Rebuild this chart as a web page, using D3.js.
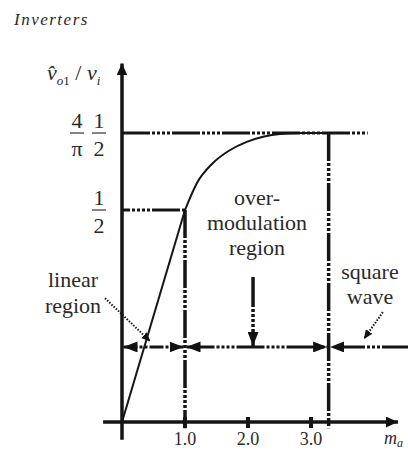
<!DOCTYPE html>
<html><head><meta charset="utf-8">
<script src="https://cdn.jsdelivr.net/npm/d3@7"></script>
<style>
html,body{margin:0;padding:0;background:#fff;}
svg{display:block;}
text{font-family:"Liberation Serif","Times New Roman",serif;fill:#2a2a2a;}
</style></head>
<body>
<script>
// ---- data ----
const xTickValues = [1.0, 2.0, 3.0];
const xTickLabels = ["1.0", "2.0", "3.0"];
const curveM = [0, 1.0, 1.19, 1.44, 1.71, 1.98, 2.24, 2.51, 2.83, 3.28];
const curveV = [0, 0.5, 0.548, 0.583, 0.606, 0.621, 0.630, 0.635, 0.6366, 0.6366];
const yLevels = [0.5, 2 / Math.PI];
const regionBounds = [0, 1.0, 3.28];
const regionNames = [["linear", "region"], ["over-", "modulation", "region"], ["square", "wave"]];
const arrowLevel = 0.177;

const W = 408, H = 451;
const x = d3.scaleLinear().domain([0, 1]).range([122, 185]);
const y = d3.scaleLinear().domain([0, 0.5, 2 / Math.PI]).range([422, 210, 133]);
const xExt = [-0.3, 4.38], yExt = [-0.042, 0.76];
const rightEdge = x.invert(W);

const svg = d3.select("body").append("svg").attr("width", W).attr("height", H);
const defs = svg.append("defs");
function marker(id, len, wid) {
  defs.append("marker").attr("id", id).attr("markerUnits", "userSpaceOnUse")
    .attr("viewBox", `0 0 ${len} ${wid}`).attr("refX", len).attr("refY", wid / 2)
    .attr("markerWidth", len).attr("markerHeight", wid).attr("orient", "auto-start-reverse")
    .append("path").attr("d", `M0,0L${len},${wid / 2}L0,${wid}Z`).attr("fill", "#111");
}
marker("head", 14, 11);
marker("small", 9, 8);
marker("axis", 12, 11);

const ink = "#151515";
const dashDot = "28,2,3,2,3,2,3,2,3,2";

// title
svg.append("text").attr("x", 14).attr("y", 25).attr("font-style", "italic")
  .attr("font-size", 17).attr("letter-spacing", 1.5).text("Inverters");

// y label
const yl = svg.append("text").attr("x", 47).attr("y", 80).attr("font-size", 22);
yl.append("tspan").attr("font-style", "italic").text("v\u0302");
yl.append("tspan").attr("font-style", "italic").attr("font-size", 13).attr("dy", 5).text("o");
yl.append("tspan").attr("font-size", 13).text("1");
yl.append("tspan").attr("dy", -5).text(" / ");
yl.append("tspan").attr("font-style", "italic").text("v");
yl.append("tspan").attr("font-style", "italic").attr("font-size", 13).attr("dy", 5).text("i");

// reference dash-dot lines
yLevels.forEach((v, i) => {
  const xEnd = i === 0 ? regionBounds[1] : 3.9;
  svg.append("line").attr("x1", x(0)).attr("x2", x(xEnd)).attr("y1", y(v)).attr("y2", y(v))
    .attr("stroke", ink).attr("stroke-width", 3).attr("stroke-dasharray", dashDot)
    .attr("stroke-dashoffset", i === 0 ? 20 : 0);
});
[[regionBounds[1], yLevels[0]], [regionBounds[2], yLevels[1]]].forEach(([m, v]) => {
  svg.append("line").attr("x1", x(m)).attr("x2", x(m)).attr("y1", y(v)).attr("y2", y(-0.015))
    .attr("stroke", ink).attr("stroke-width", 3.5).attr("stroke-dasharray", dashDot);
});

// curve
const pts = curveM.map((m, i) => [m, curveV[i]]);
svg.append("path").datum(pts.slice(0, 2))
  .attr("d", d3.line().x(d => x(d[0])).y(d => y(d[1])))
  .attr("fill", "none").attr("stroke", ink).attr("stroke-width", 2);
svg.append("path").datum(pts.slice(1))
  .attr("d", d3.line().x(d => x(d[0])).y(d => y(d[1])).curve(d3.curveMonotoneX))
  .attr("fill", "none").attr("stroke", ink).attr("stroke-width", 2);

// axes
svg.append("line").attr("x1", x(xExt[0])).attr("x2", x(xExt[1])).attr("y1", y(0)).attr("y2", y(0))
  .attr("stroke", ink).attr("stroke-width", 3.5).attr("marker-end", "url(#axis)");
svg.append("line").attr("x1", x(0)).attr("x2", x(0)).attr("y1", y(yExt[0])).attr("y2", y(yExt[1]))
  .attr("stroke", ink).attr("stroke-width", 3.5).attr("marker-end", "url(#axis)");
xTickValues.forEach((t, i) => {
  svg.append("line").attr("x1", x(t)).attr("x2", x(t)).attr("y1", y(0) - 5).attr("y2", y(0) + 6)
    .attr("stroke", ink).attr("stroke-width", 4);
  svg.append("text").attr("x", x(t)).attr("y", 445).attr("text-anchor", "middle")
    .attr("font-size", 18).text(xTickLabels[i]);
});
const ma = svg.append("text").attr("x", 384).attr("y", 444).attr("font-size", 18).attr("font-style", "italic");
ma.append("tspan").text("m");
ma.append("tspan").attr("font-size", 12).attr("dy", 3).text("a");

// y fractions
function frac(cx, top, bot, v) {
  const yy = y(v);
  svg.append("line").attr("x1", cx - 7).attr("x2", cx + 7).attr("y1", yy).attr("y2", yy)
    .attr("stroke", "#333").attr("stroke-width", 1.2);
  svg.append("text").attr("x", cx).attr("y", yy - 5).attr("text-anchor", "middle").attr("font-size", 22).text(top);
  svg.append("text").attr("x", cx).attr("y", yy + 23).attr("text-anchor", "middle").attr("font-size", 22).text(bot);
}
frac(77, "4", "\u03c0", yLevels[1]);
frac(99, "1", "2", yLevels[1]);
frac(99, "1", "2", yLevels[0]);

// region arrows
for (let i = 0; i < 2; i++) {
  svg.append("line").attr("x1", x(regionBounds[i]) + 1.5).attr("x2", x(regionBounds[i + 1]) - 1.5)
    .attr("y1", y(arrowLevel)).attr("y2", y(arrowLevel))
    .attr("stroke", ink).attr("stroke-width", 3).attr("stroke-dasharray", i === 0 ? "14,2,3,2,3,2" : dashDot)
    .attr("marker-start", "url(#head)").attr("marker-end", "url(#head)");
}
svg.append("line").attr("x1", x(rightEdge)).attr("x2", x(regionBounds[2]) + 1.5)
  .attr("y1", y(arrowLevel)).attr("y2", y(arrowLevel))
  .attr("stroke", ink).attr("stroke-width", 3).attr("stroke-dasharray", "26,2,3,2,3,2,3,2,28")
  .attr("marker-end", "url(#head)");
// down arrow in overmodulation region
svg.append("line").attr("x1", x(2.08)).attr("x2", x(2.08)).attr("y1", y(0.342)).attr("y2", y(arrowLevel) - 1)
  .attr("stroke", ink).attr("stroke-width", 3.5).attr("stroke-dasharray", "30,2,3,2,3,2,3,2,3,2")
  .attr("marker-end", "url(#head)");

// leader lines
[[[-0.27, 0.292], [0.45, 0.19]], [[4.14, 0.259], [3.84, 0.196]]].forEach(([a, b]) => {
  svg.append("line").attr("x1", x(a[0])).attr("y1", y(a[1])).attr("x2", x(b[0])).attr("y2", y(b[1]))
    .attr("stroke", ink).attr("stroke-width", 2).attr("stroke-dasharray", "1.5,1.5")
    .attr("marker-end", "url(#small)");
});

// region labels
function label(lines, cx, base, gap) {
  lines.forEach((t, i) => svg.append("text").attr("x", cx).attr("y", base + i * gap)
    .attr("text-anchor", "middle").attr("font-size", 22).attr("fill", "#333").text(t));
}
label(regionNames[0], 73, 287, 26);
label(regionNames[1], 257, 205, 25);
label(regionNames[2], 370, 279, 25);
</script>
</body></html>
